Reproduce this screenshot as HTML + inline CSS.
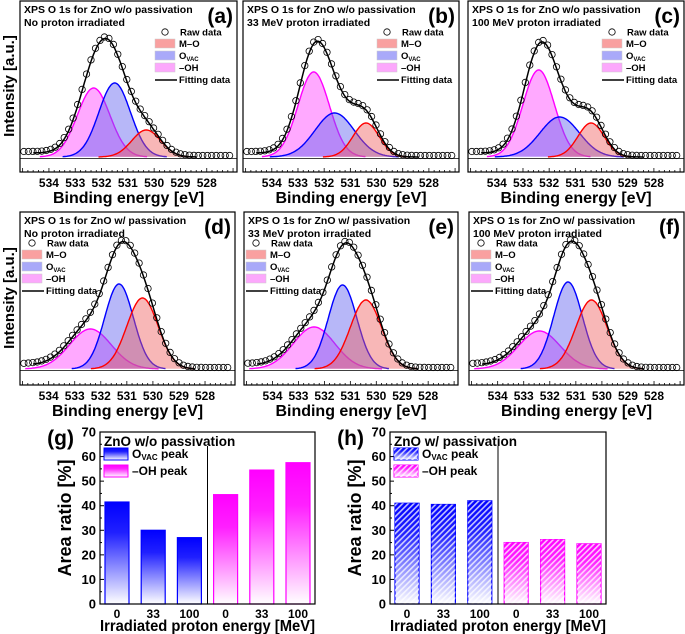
<!DOCTYPE html>
<html><head><meta charset="utf-8">
<style>
html,body{margin:0;padding:0;background:#fff;}
svg{display:block;font-family:"Liberation Sans",Arial,sans-serif;font-weight:bold;}
</style></head>
<body>
<svg id="fig" width="685" height="634" viewBox="0 0 685 634">
<defs>
<linearGradient id="gBlue" x1="0" y1="0" x2="0" y2="1"><stop offset="0" stop-color="#0000ff"/><stop offset="0.3" stop-color="#2020ff"/><stop offset="1" stop-color="#ffffff"/></linearGradient>
<linearGradient id="gMag" x1="0" y1="0" x2="0" y2="1"><stop offset="0" stop-color="#ff00ff"/><stop offset="0.3" stop-color="#ff20ff"/><stop offset="1" stop-color="#ffffff"/></linearGradient>
<pattern id="hatch" width="4" height="4" patternUnits="userSpaceOnUse" patternTransform="rotate(45)"><rect width="1.6" height="4" fill="#fff" opacity="0.75"/></pattern>
</defs>
</svg>
<script>
// ---- spectra data (component centers [eV], heights [a.u.], widths sigma [eV]) ----
const panelLabels=["(a)","(b)","(c)","(d)","(e)","(f)"];
const titles1=["XPS O 1s for ZnO w/o passivation","XPS O 1s for ZnO w/o passivation","XPS O 1s for ZnO w/o passivation","XPS O 1s for ZnO w/ passivation","XPS O 1s for ZnO w/ passivation","XPS O 1s for ZnO w/ passivation"];
const titles2=["No proton irradiated","33 MeV proton irradiated","100 MeV proton irradiated","No proton irradiated","33 MeV proton irradiated","100 MeV proton irradiated"];
const moCenter=[530.3,530.4,530.4,530.4,530.4,530.4];
const moHeight=[27,34,34,71,69,69];
const moSigma=[0.55,0.5,0.5,0.6,0.6,0.6];
const ovCenter=[531.5,531.6,531.6,531.3,531.3,531.3];
const ovHeight=[74,44,40,85,84,87];
const ovSigma=[0.6,0.75,0.75,0.55,0.55,0.55];
const ohCenter=[532.3,532.4,532.4,532.4,532.4,532.4];
const ohHeight=[69,85,87,40,42,38];
const ohSigma=[0.62,0.6,0.6,0.8,0.8,0.8];
const xTicks=[534,533,532,531,530,529,528];

// ---- bar data ----
const barCats=["0","33","100","0","33","100"];
const gOvac=[41.5,30,27];
const gOh=[44.5,54.5,57.5];
const hOvac=[41,40.5,42];
const hOh=[25,26.2,24.5];
const yTicks=[0,10,20,30,40,50,60,70];

const NS="http://www.w3.org/2000/svg";
const svg=document.getElementById('fig');
function mk(tag,attrs,parent,text){const e=document.createElementNS(NS,tag);for(const k in attrs)e.setAttribute(k,attrs[k]);if(text!==undefined)e.textContent=text;(parent||svg).appendChild(e);return e;}

const frames=[
 {x0:20,x1:237,top:1,base:157,bot:172},{x0:243,x1:459,top:1,base:157,bot:172},{x0:468,x1:684,top:1,base:157,bot:172},
 {x0:20,x1:235,top:212,base:369,bot:385},{x0:244,x1:458,top:212,base:369,bot:385},{x0:469,x1:684,top:212,base:369,bot:385}];
const E0=535.1,E1=526.85;
function gauss(E,c,h,s){return h*Math.exp(-0.5*((E-c)/s)**2);}

frames.forEach((f,i)=>{
 const g=mk('g',{});  
 const sx=E=>f.x0+(E0-E)/(E0-E1)*(f.x1-f.x0);
 const sy=v=>f.base-v;
 const comps=[
  {c:moCenter[i],h:moHeight[i],s:moSigma[i],fill:'#f06060',stroke:'#ff0000',name:'m-o-peak'},
  {c:ovCenter[i],h:ovHeight[i],s:ovSigma[i],fill:'#6060f0',stroke:'#0000ff',name:'ovac-peak'},
  {c:ohCenter[i],h:ohHeight[i],s:ohSigma[i],fill:'#ff40ff',stroke:'#ff00ff',name:'oh-peak'}];
 comps.slice().reverse().forEach(cp=>{
  let d='';
  const a=Math.min(cp.c+3.3*cp.s,534.9), b=Math.max(cp.c-3.3*cp.s,527.2);
  for(let E=a;E>=b;E-=0.04){const X=sx(E),Y=sy(gauss(E,cp.c,cp.h,cp.s));d+=(d?'L':'M')+X.toFixed(1)+','+Y.toFixed(1);}
  const p=mk('path',{d:d+'Z',fill:cp.fill,'fill-opacity':0.45,stroke:'none'},g);
   
  const l=mk('path',{d:d,fill:'none',stroke:cp.stroke,'stroke-width':1.4},g);
   
 });
 const sum=E=>comps.reduce((a,cp)=>a+gauss(E,cp.c,cp.h,cp.s),0);
 const bg=E=>4/(1+Math.exp(-(E-531.5)*2));
 let d='';
 for(let E=534.6;E>=528.4;E-=0.05){d+=(d?'L':'M')+sx(E).toFixed(1)+','+sy(sum(E)+bg(E)).toFixed(1);}
 const fl=mk('path',{d:d,fill:'none',stroke:'#000','stroke-width':1.5},g);
  
 for(let E=534.95;E>=527.0;E-=0.17){
  const c=mk('circle',{cx:sx(E).toFixed(1),cy:sy(sum(E)+bg(E)+1.5).toFixed(1),r:3.2,fill:'none',stroke:'#000','stroke-width':0.8},g);
   
 }
 const fr=mk('rect',{x:f.x0,y:f.top,width:f.x1-f.x0,height:f.bot-f.top,fill:'none',stroke:'#000','stroke-width':1.2},g);
  
 mk('line',{x1:f.x0,x2:f.x1,y1:f.base+1.5,y2:f.base+1.5,stroke:'#000','stroke-width':0.8},g);
 for(let k=5350;k>=5269;k-=2){const E=k/10;const maj=(k%10===0);
  mk('line',{x1:sx(E),x2:sx(E),y1:f.bot,y2:f.bot-(maj?4:2),stroke:'#000','stroke-width':0.8},g);}
 xTicks.forEach(t=>{const tl=mk('text',{x:sx(t),y:f.bot+15,'text-anchor':'middle','font-size':12},g,String(t));
   });
 const xt=mk('text',{x:(f.x0+f.x1)/2,y:f.bot+31,'text-anchor':'middle','font-size':16},g,'Binding energy [eV]');
  
 const t1=mk('text',{x:f.x0+4,y:f.top+12,'font-size':10.5},g,titles1[i]);
  
 const t2=mk('text',{x:f.x0+4,y:f.top+25,'font-size':10.5},g,titles2[i]);
  
 const pl=mk('text',{x:f.x1-4,y:f.top+22,'text-anchor':'end','font-size':21},g,panelLabels[i]);
  
 const row2=i>=3;
 const lx=row2?f.x0+2:f.x1-82, ly=f.top+31;
 const lg=mk('g',{},g);  
 mk('circle',{cx:lx+10,cy:ly,r:3.2,fill:'none',stroke:'#000','stroke-width':0.8},lg);
 mk('text',{x:lx+25,y:ly+3.5,'font-size':9.5},lg,'Raw data');
 const items=[['#f9a0a0','M–O'],['#a9a9f9','O'],['#fca8fc','–OH']];
 items.forEach((it,k)=>{const yy=ly+7+k*12;
  mk('rect',{x:lx,y:yy,width:20,height:9,fill:it[0],stroke:'#ccc','stroke-width':0.5},lg);
  const t=mk('text',{x:lx+24,y:yy+8,'font-size':9.5},lg,it[1]);
  if(k===1){mk('tspan',{'font-size':6,dy:2},t,'VAC');}
 });
 mk('line',{x1:lx,x2:lx+22,y1:ly+48,y2:ly+48,stroke:'#000','stroke-width':1.4},lg);
 mk('text',{x:lx+24,y:ly+51,'font-size':9.5},lg,'Fitting data');
});
[[86],[298]].forEach((c,k)=>{const t=mk('text',{x:0,y:0,'text-anchor':'middle','font-size':15,transform:`translate(14,${c[0]}) rotate(-90)`},svg,'Intensity [a.u.]');
  });

// ---- bar charts ----
function barChart(o){
 const g=mk('g',{});  
 const top=432,bot=604,x0=o.x0,x1=o.x1;
 const sy=v=>bot-v/70*(bot-top);
 const sx=k=>x0+17+k*(x1-x0-34)/5;
 const vals=o.ov.concat(o.oh);
 vals.forEach((v,k)=>{
  const bw=24;const isOv=k<3;
  const r=mk('rect',{x:sx(k)-bw/2,y:sy(v),width:bw,height:bot-sy(v),fill:isOv?'url(#gBlue)':'url(#gMag)',stroke:isOv?'#0000ff':'#ff00ff','stroke-width':1.2},g);
   
  if(o.hatch){mk('rect',{x:sx(k)-bw/2,y:sy(v),width:bw,height:bot-sy(v),fill:'url(#hatch)'},g);}
  const tl=mk('text',{x:sx(k),y:bot+14,'text-anchor':'middle','font-size':12},g,barCats[k]);
   
 });
 const fr=mk('rect',{x:x0,y:top,width:x1-x0,height:bot-top,fill:'none',stroke:'#000','stroke-width':1.2},g);
  
 const dx=(sx(2)+sx(3))/2;
 mk('line',{x1:dx,x2:dx,y1:top+14,y2:bot,stroke:'#000','stroke-width':1},g);
 yTicks.forEach(t=>{mk('line',{x1:x0,x2:x0+4,y1:sy(t),y2:sy(t),stroke:'#000'},g);
  if(t<70)mk('line',{x1:x0,x2:x0+2,y1:sy(t+5),y2:sy(t+5),stroke:'#000'},g);
  const tl=mk('text',{x:x0-4,y:sy(t)+4.5,'text-anchor':'end','font-size':13},g,String(t));
   });
 const yt=mk('text',{x:0,y:0,'text-anchor':'middle','font-size':18,transform:`translate(${x0-29},${(top+bot)/2}) rotate(-90)`},g,'Area ratio [%]');
  
 const xt=mk('text',{x:x0,y:631,'font-size':16,textLength:x1-x0,lengthAdjust:'spacingAndGlyphs'},g,'Irradiated proton energy [MeV]');
  
 const pl=mk('text',{x:x0-26,y:top+13,'text-anchor':'end','font-size':21},g,o.label);
  
 const lt=mk('text',{x:x0+4,y:top+14,'font-size':13.5},g,o.title);
  
 [['url(#gBlue)','#0000ff','O','VAC',' peak'],['url(#gMag)','#ff00ff','–OH peak','','']].forEach((it,k)=>{
  const yy=top+16+k*17;
  const r=mk('rect',{x:x0+4,y:yy,width:24,height:12,fill:it[0],stroke:it[1],'stroke-width':1},g);
   
  if(o.hatch)mk('rect',{x:x0+4,y:yy,width:24,height:12,fill:'url(#hatch)'},g);
  const t=mk('text',{x:x0+32,y:yy+10,'font-size':12},g,it[2]);
   
  if(it[3]){mk('tspan',{'font-size':8,dy:2},t,it[3]);mk('tspan',{dy:-2},t,it[4]);}
 });
}
barChart({name:'bar-chart-g',x0:100,x1:315,ov:gOvac,oh:gOh,hatch:false,label:'(g)',title:'ZnO w/o passivation'});
barChart({name:'bar-chart-h',x0:390,x1:606,ov:hOvac,oh:hOh,hatch:true,label:'(h)',title:'ZnO w/ passivation'});
</script>
</body></html>
